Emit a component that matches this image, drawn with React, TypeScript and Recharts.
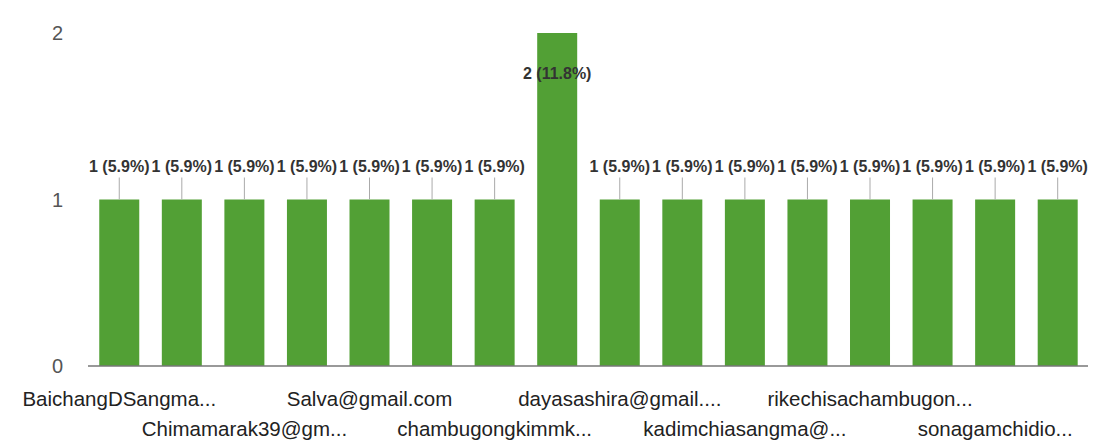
import { BarChart, Bar, XAxis, YAxis, LabelList } from 'recharts'

// respondents, in the order the form lists them
const respondents = [
  'r01', 'r02', 'r03', 'r04', 'r05', 'r06', 'r07', 'r08',
  'r09', 'r10', 'r11', 'r12', 'r13', 'r14', 'r15', 'r16',
]

// response counts per respondent
const counts = [1, 1, 1, 1, 1, 1, 1, 2, 1, 1, 1, 1, 1, 1, 1, 1]

// only every other label fits, staggered on two rows
const tickLabels: Record<string, string> = {
  r01: 'BaichangDSangma...',
  r03: 'Chimamarak39@gm...',
  r05: 'Salva@gmail.com',
  r07: 'chambugongkimmk...',
  r09: 'dayasashira@gmail....',
  r11: 'kadimchiasangma@...',
  r13: 'rikechisachambugon...',
  r15: 'sonagamchidio...',
}

const yTicks = [0, 1, 2]

const total = counts.reduce((s, v) => s + v, 0)
const data = respondents.map((r, i) => ({ name: r, count: counts[i] }))

const FONT = '"Liberation Sans", Arial, sans-serif'
const GREEN = '#52a035'

function XTick(props: any) {
  const { x, y, payload } = props
  const label = tickLabels[payload.value]
  if (!label) return null
  const row = (payload.index / 2) % 2
  return (
    <text
      x={x}
      y={y + 32 + row * 30}
      textAnchor="middle"
      fontFamily={FONT}
      fontSize={20.5}
      fill="#222"
    >
      {label}
    </text>
  )
}

function YTick(props: any) {
  const { y, payload } = props
  return (
    <text
      x={55}
      y={y + 7}
      textAnchor="end"
      fontFamily={FONT}
      fontSize={20}
      fill="#555"
    >
      {payload.value}
    </text>
  )
}

function ValueLabel(props: any) {
  const { x, y, width, value } = props
  const cx = x + width / 2
  const text = `${value} (${((value / total) * 100).toFixed(1)}%)`
  const above = y - 27 > 40
  if (above) {
    return (
      <g>
        <line x1={cx} x2={cx} y1={y - 22} y2={y} stroke="#aaa" strokeWidth={1} />
        <text
          x={cx}
          y={y - 28}
          textAnchor="middle"
          fontFamily={FONT}
          fontSize={16}
          fontWeight="bold"
          fill="#333"
        >
          {text}
        </text>
      </g>
    )
  }
  return (
    <text
      x={cx}
      y={y + 46}
      textAnchor="middle"
      fontFamily={FONT}
      fontSize={16}
      fontWeight="bold"
      fill="#333"
    >
      {text}
    </text>
  )
}

export default function App() {
  return (
    <div style={{ width: 1088, height: 437, background: '#fff' }}>
      <BarChart
        width={1088}
        height={437}
        data={data}
        margin={{ top: 25, right: 7, left: 0, bottom: 0 }}
        barCategoryGap="18%"
      >
        <XAxis
          dataKey="name"
          height={79}
          interval={0}
          tickLine={false}
          axisLine={{ stroke: '#777', strokeWidth: 1.5 }}
          tick={<XTick />}
        />
        <YAxis
          width={80}
          domain={[0, 2]}
          ticks={yTicks}
          axisLine={false}
          tickLine={false}
          tick={<YTick />}
        />
        <Bar dataKey="count" fill={GREEN} isAnimationActive={false}>
          <LabelList dataKey="count" content={<ValueLabel />} />
        </Bar>
      </BarChart>
    </div>
  )
}
